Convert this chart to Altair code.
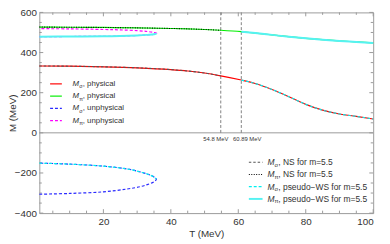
import altair as alt
import pandas as pd

# ---------------- data ----------------
T_main = [1, 10, 20, 30, 40, 45, 50, 54.8, 60.89, 65, 70, 75, 80, 85, 90, 95, 100]
M_sigma_phys = [333, 332, 329, 324, 315, 308, 298, 284, 263, 246, 216, 180, 142, 113, 94, 82, 69]
M_pi_phys = [527, 526, 525, 523, 520, 518, 515, 511, 504, 497, 488, 479, 471, 464, 458, 453, 448]

T_ns_end = 54.8
T_ws_start = 60.89
T_marks = [54.8, 60.89]
T_mark_labels = ["54.8 MeV", "60.89 MeV"]

# upper loop (pi): unphysical upper branch, pseudo-WS lower branch
T_loop_pi = [1, 10, 20, 25, 30, 33, 35, 35.8]
M_pi_unphys_upper = [519, 518, 515, 513, 509, 505, 500, 496]
M_pi_ws_lower = [479, 480, 481, 482, 485, 488, 491, 496]

# lower loop (sigma): pseudo-WS upper branch, unphysical lower branch
T_loop_sigma = [1, 10, 20, 27, 31, 33, 35, 35.7]
M_sigma_ws_upper = [-151, -156, -166, -180, -195, -205, -220, -231]
M_sigma_unphys_lower = [-306, -302, -294, -280, -268, -258, -244, -231]

x_major = [20, 40, 60, 80, 100]
x_minor = [5, 10, 15, 25, 30, 35, 45, 50, 55, 65, 70, 75, 85, 90, 95]
y_major = [-400, -200, 0, 200, 400, 600]
y_minor = [-350, -300, -250, -150, -100, -50, 50, 100, 150, 250, 300, 350, 450, 500, 550]

legend_left_sub = ["σ", "π", "σ", "π"]
legend_left_text = [", physical", ", physical", ", unphysical", ", unphysical"]
legend_right_sub = ["σ", "π", "σ", "π"]
legend_right_text = [", NS for m=5.5", ", NS for m=5.5",
                     ", pseudo−WS for m=5.5", ", pseudo−WS for m=5.5"]

# ---------------- styles ----------------
W, H = 341, 205
FONT = "Liberation Sans"
FRAME = "#9a9a9a"
LABEL = "#333333"
RED, GREEN, BLUE, MAG, CYAN = "#ff0000", "#00ee00", "#2a2aff", "#ff00ff", "#00f0f0"
CYAN_SOLID = "#55f2f2"

xs = alt.Scale(domain=[1, 100], nice=False, zero=False)
ys = alt.Scale(domain=[-400, 600], nice=False, zero=False)


def series(T, M):
    return pd.DataFrame({"T": T, "M": M, "o": list(range(len(T)))})


def loop(T, lower, upper):
    Ts = list(T) + list(T[::-1][1:])
    Ms = list(lower) + list(upper[::-1][1:])
    return series(Ts, Ms)


def line(df, color, width=1.2, dash=None, interp="monotone", opacity=1.0, axes=False):
    kw = dict(color=color, strokeWidth=width, interpolate=interp, opacity=opacity)
    if dash:
        kw["strokeDash"] = dash
    if axes:
        x = alt.X("T:Q", scale=xs, axis=alt.Axis(
            values=x_major, ticks=False, domain=False, grid=False, labelPadding=4,
            labelFontSize=10, labelColor=LABEL, labelFont=FONT,
            title="T (MeV)", titleX=W / 2, titleY=21, titleBaseline="middle",
            titleFontWeight="normal", titleFontSize=10, titleColor=LABEL, titleFont=FONT))
        y = alt.Y("M:Q", scale=ys, axis=alt.Axis(
            values=y_major, ticks=False, domain=False, grid=False, labelPadding=3,
            labelFontSize=10, labelColor=LABEL, labelFont=FONT,
            title="M (MeV)", titleAngle=270, titleX=-27, titleY=H / 2,
            titleAlign="center", titleBaseline="middle",
            titleFontWeight="normal", titleFontSize=10, titleColor=LABEL, titleFont=FONT))
    else:
        x = alt.X("T:Q", scale=xs)
        y = alt.Y("M:Q", scale=ys)
    return alt.Chart(df).mark_line(**kw).encode(x=x, y=y, order="o:Q")


layers = []

# frame ticks (inward)
for vals, ln in ((x_major, 4), (x_minor, 2.5)):
    d = pd.DataFrame({"T": vals})
    layers.append(alt.Chart(d).mark_rule(color=FRAME, strokeWidth=1).encode(
        x=alt.X("T:Q", scale=xs), y=alt.value(H), y2=alt.value(H - ln)))
    layers.append(alt.Chart(d).mark_rule(color=FRAME, strokeWidth=1).encode(
        x=alt.X("T:Q", scale=xs), y=alt.value(0), y2=alt.value(ln)))
for vals, ln in ((y_major, 4), (y_minor, 2.5)):
    d = pd.DataFrame({"M": vals})
    layers.append(alt.Chart(d).mark_rule(color=FRAME, strokeWidth=1).encode(
        y=alt.Y("M:Q", scale=ys), x=alt.value(0), x2=alt.value(ln)))
    layers.append(alt.Chart(d).mark_rule(color=FRAME, strokeWidth=1).encode(
        y=alt.Y("M:Q", scale=ys), x=alt.value(W), x2=alt.value(W - ln)))

# zero line
layers.append(alt.Chart(pd.DataFrame({"M": [0]})).mark_rule(color=FRAME, strokeWidth=1).encode(
    y=alt.Y("M:Q", scale=ys), x=alt.value(0), x2=alt.value(W)))

# vertical marker lines and labels
vdf = pd.DataFrame({"T": T_marks, "top": [600, 600], "bot": [0, 0], "lab": T_mark_labels,
                    "dx": [-5, 6]})
layers.append(alt.Chart(vdf).mark_rule(color="#808080", strokeWidth=1, strokeDash=[3, 2]).encode(
    x=alt.X("T:Q", scale=xs), y=alt.Y("top:Q", scale=ys), y2="bot:Q"))
for i in range(2):
    layers.append(alt.Chart(vdf.iloc[[i]]).mark_text(
        fontSize=6, font=FONT, color=LABEL, baseline="middle", align="center",
        dx=int(vdf["dx"][i]), dy=6).encode(
        x=alt.X("T:Q", scale=xs), y=alt.Y("bot:Q", scale=ys), text="lab:N"))

# curves
sig = series(T_main, M_sigma_phys)
pi = series(T_main, M_pi_phys)
layers.append(line(sig, RED, axes=True))
layers.append(line(pi, GREEN))
layers.append(line(loop(T_loop_sigma, M_sigma_unphys_lower, M_sigma_ws_upper), BLUE,
                   dash=[3, 2], interp="catmull-rom"))
layers.append(line(loop(T_loop_pi, M_pi_ws_lower, M_pi_unphys_upper), MAG,
                   dash=[3, 2], interp="catmull-rom"))
layers.append(line(sig[sig["T"] <= T_ns_end], "#555555", width=1.1, dash=[2.5, 2]))
layers.append(line(pi[pi["T"] <= T_ns_end], "#000000", width=1.1, dash=[1, 1.5]))
layers.append(line(sig[sig["T"] >= T_ws_start], CYAN, width=1.2, dash=[3, 2]))
layers.append(line(series(T_loop_sigma, M_sigma_ws_upper), CYAN, width=1.2, dash=[3, 2],
                   interp="catmull-rom"))
layers.append(line(pi[pi["T"] >= T_ws_start], CYAN_SOLID, width=2))
layers.append(line(series(T_loop_pi, M_pi_ws_lower), CYAN_SOLID, width=2,
                   interp="catmull-rom"))

# legends (drawn by hand so the subscripts render)
one = pd.DataFrame({"a": [0]})


def legend(x0, x1, tx, rows, subs, texts, styles, fs=8.0):
    out = []
    for y, sub, txt, st in zip(rows, subs, texts, styles):
        kw = dict(color=st[0], strokeWidth=st[2])
        if st[1]:
            kw["strokeDash"] = st[1]
        out.append(alt.Chart(one).mark_rule(**kw).encode(
            x=alt.value(x0), x2=alt.value(x1), y=alt.value(y)))
        out.append(alt.Chart(one).mark_text(
            text="M", font=FONT, fontSize=fs, fontStyle="italic", color=LABEL,
            align="left", baseline="middle").encode(x=alt.value(tx), y=alt.value(y)))
        out.append(alt.Chart(one).mark_text(
            text=sub, font=FONT, fontSize=fs * 0.7, color=LABEL,
            align="left", baseline="middle").encode(x=alt.value(tx + fs * 0.85),
                                                    y=alt.value(y + 2.5)))
        out.append(alt.Chart(one).mark_text(
            text=txt, font=FONT, fontSize=fs, color=LABEL,
            align="left", baseline="middle").encode(x=alt.value(tx + fs * 1.29),
                                                    y=alt.value(y)))
    return out


layers += legend(11, 23, 34, [73, 85.5, 98, 110.5], legend_left_sub, legend_left_text,
                 [(RED, None, 1.2), (GREEN, None, 1.2), (BLUE, [3, 2], 1.2), (MAG, [3, 2], 1.2)])
layers += legend(214, 228, 233, [153, 165.5, 178, 190.5], legend_right_sub, legend_right_text,
                 [("#555555", [2.5, 2], 1.1), ("#000000", [1, 1.5], 1.1),
                  (CYAN, [3, 2], 1.2), (CYAN_SOLID, None, 2)], fs=8.6)

chart = alt.layer(*layers).properties(
    width=W, height=H,
    padding={"left": 32, "top": 2, "right": 9, "bottom": 27},
    autosize=alt.AutoSizeParams(type="none"),
).configure_view(stroke=FRAME, strokeWidth=1)

chart.save("out.html", embed_options={"renderer": "svg", "actions": False})
